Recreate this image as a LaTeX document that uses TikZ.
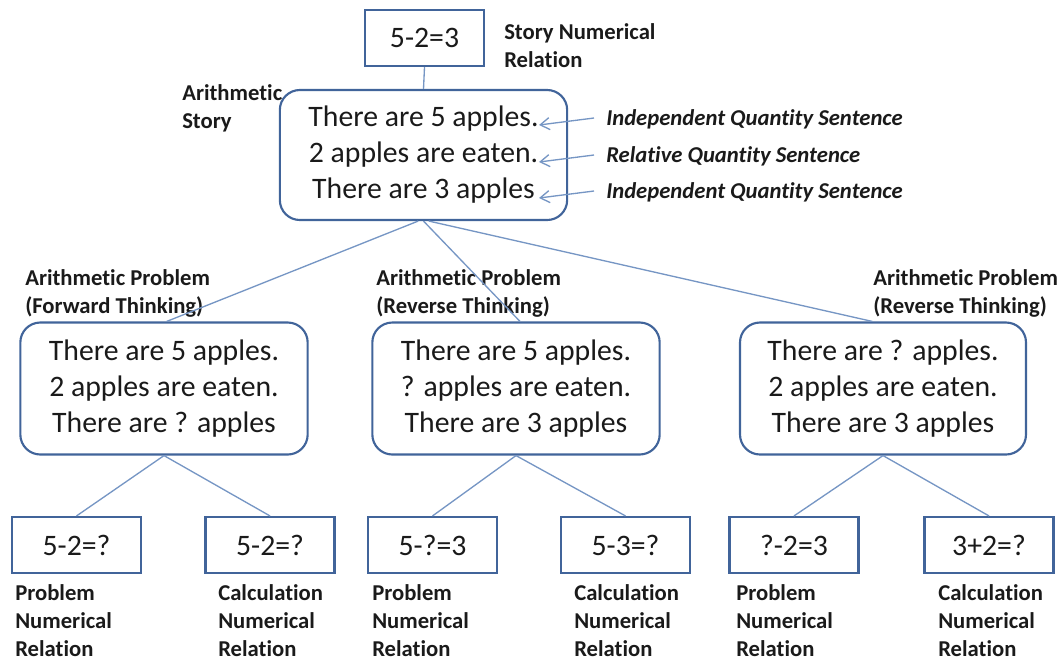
\documentclass[tikz,border=0pt]{standalone}
\usepackage{fontspec}
\setmainfont{Carlito}[Ligatures={NoCommon,NoContextual}]
\usetikzlibrary{arrows.meta}
\definecolor{boxblue}{HTML}{41649A}
\definecolor{linkblue}{HTML}{7696C4}
\definecolor{ink}{HTML}{1A1A1A}
\begin{document}
\begin{tikzpicture}[x=0.75pt,y=-0.75pt,
  every node/.style={text=ink},
  sentbox/.style={draw=boxblue, line width=1.6pt, rounded corners=15pt,
    minimum width=215.5pt, minimum height=99pt, align=center,
    font=\fontsize{22.3}{27}\selectfont},
  eqbox/.style={draw=boxblue, line width=1.6pt, minimum height=42pt,
    font=\fontsize{22.3}{27}\selectfont},
  tag/.style={anchor=west, inner sep=0pt, align=left,
    font=\bfseries\fontsize{17}{21}\selectfont},
  kind/.style={anchor=west, inner sep=0pt,
    font=\bfseries\itshape\fontsize{17}{21}\selectfont},
  link/.style={draw=linkblue, line width=1pt},
  pointer/.style={draw=linkblue, line width=1pt, -{Straight Barb[length=7pt,width=9pt]}}]
\useasboundingbox (0,0) rectangle (1062,662);

% story relation and story
\node[eqbox, minimum width=89.25pt] (srel) at (424.5,38) {5-2=3};
\node[tag] (srelL) at (504,46) {Story Numerical\\Relation};
\node[sentbox, minimum height=97.5pt] (story) at (423.5,155)
  {There are 5 apples.\\2 apples are eaten.\\There are 3 apples};
\node[tag] (storyL) at (182,108) {Arithmetic\\Story};
\draw[link] (srel.south) -- (story.north);

% sentence kinds
\node[kind] (k1) at (606,119) {Independent Quantity Sentence};
\node[kind] (k2) at (606,156) {Relative Quantity Sentence};
\node[kind] (k3) at (606,192) {Independent Quantity Sentence};
\coordinate (e1) at (539,125);
\coordinate (e2) at (539,162);
\coordinate (e3) at (539,198);
\draw[pointer] ([xshift=-9pt,yshift=0.75pt]k1.west) -- (e1);
\draw[pointer] ([xshift=-9pt,yshift=0.75pt]k2.west) -- (e2);
\draw[pointer] ([xshift=-9pt,yshift=0.75pt]k3.west) -- (e3);

% problems
\node[sentbox] (p1) at (164,388.5)
  {There are 5 apples.\\2 apples are eaten.\\There are ? apples};
\node[sentbox] (p2) at (516,388.5)
  {There are 5 apples.\\? apples are eaten.\\There are 3 apples};
\node[sentbox, minimum width=214.5pt] (p3) at (883,388.5)
  {There are ? apples.\\2 apples are eaten.\\There are 3 apples};
\node[tag] (p1L) at (25,293.5) {Arithmetic Problem\\(Forward Thinking)};
\node[tag] (p2L) at (376,293.5) {Arithmetic Problem\\(Reverse Thinking)};
\node[tag] (p3L) at (873,293.5) {Arithmetic Problem\\(Reverse Thinking)};
\draw[link] ([xshift=-4pt]story.south) -- ([xshift=2pt]p1.north);
\draw[link] (story.south) -- ([xshift=3pt]p2.north);
\draw[link] ([xshift=4pt]story.south) -- ([xshift=-8pt]p3.north);

% numerical relations
\node[eqbox, minimum width=96.75pt] (r1) at (76.5,545) {5-2=?};
\node[eqbox, minimum width=96.75pt] (r2) at (270,545) {5-2=?};
\node[eqbox, minimum width=96.75pt] (r3) at (432.5,545) {5-?=3};
\node[eqbox, minimum width=96.75pt] (r4) at (625.5,545) {5-3=?};
\node[eqbox, minimum width=96.75pt] (r5) at (794,545) {?-2=3};
\node[eqbox, minimum width=96.75pt] (r6) at (989,545) {3+2=?};
\draw[link] (p1.south) -- (r1.north);
\draw[link] (p1.south) -- (r2.north);
\draw[link] (p2.south) -- (r3.north);
\draw[link] (p2.south) -- (r4.north);
\draw[link] (p3.south) -- (r5.north);
\draw[link] (p3.south) -- (r6.north);

\node[tag] (r1L) at (15,621) {Problem\\Numerical\\Relation};
\node[tag] (r2L) at (218,621) {Calculation\\Numerical\\Relation};
\node[tag] (r3L) at (372,621) {Problem\\Numerical\\Relation};
\node[tag] (r4L) at (574,621) {Calculation\\Numerical\\Relation};
\node[tag] (r5L) at (736,621) {Problem\\Numerical\\Relation};
\node[tag] (r6L) at (938,621) {Calculation\\Numerical\\Relation};
\end{tikzpicture}
\end{document}
